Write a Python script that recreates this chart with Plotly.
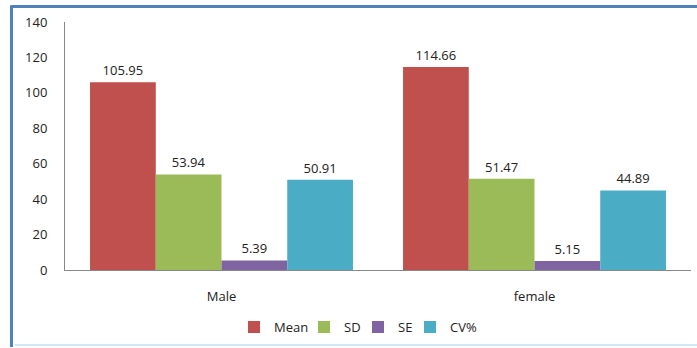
import plotly.graph_objects as go

categories = ["Male", "female"]
series_names = ["Mean", "SD", "SE", "CV%"]
mean_vals = [105.95, 114.66]
sd_vals = [53.94, 51.47]
se_vals = [5.39, 5.15]
cv_vals = [50.91, 44.89]
colors = ["#C0504D", "#9BBB59", "#8064A2", "#4BACC6"]
y_ticks = [0, 20, 40, 60, 80, 100, 120, 140]

legend_ids = ["legend", "legend2", "legend3", "legend4"]
legend_px = [234, 304, 358, 410]  # left edge (pixels) of each legend box

fig = go.Figure()
for name, vals, col, lid in zip(series_names, [mean_vals, sd_vals, se_vals, cv_vals], colors, legend_ids):
    fig.add_trace(go.Bar(
        x=categories, y=vals, name=name, marker_color=col, marker_line_width=0,
        text=[f"{v:.2f}" for v in vals], textposition="outside",
        textfont=dict(size=13, color="#222222"), cliponaxis=False,
        legend=lid,
    ))

L, R, T, B = 65, 6, 22, 78
W, H = 697, 348
pw = W - L - R
legend_common = dict(orientation="h", xanchor="left", y=-0.23, yanchor="middle",
                     font=dict(size=13), itemwidth=30, bgcolor="rgba(0,0,0,0)")
legends = {}
for lid, px in zip(legend_ids, legend_px):
    legends[lid] = dict(x=(px - L) / pw, **legend_common)

fig.update_layout(
    width=W, height=H,
    margin=dict(l=L, r=R, t=T, b=B),
    paper_bgcolor="white", plot_bgcolor="white",
    barmode="group", bargap=0.16, bargroupgap=0,
    font=dict(family="Open Sans, Liberation Sans, sans-serif", size=13, color="#222222"),
    showlegend=True,
    yaxis=dict(range=[0, 140], tickvals=y_ticks, showgrid=False, zeroline=False,
               showline=True, linecolor="#888888", linewidth=1,
               ticks="", ticklabelstandoff=14,
               tickfont=dict(size=13)),
    xaxis=dict(showline=True, linecolor="#888888", linewidth=1, showgrid=False,
               ticks="", ticklabelstandoff=14, tickfont=dict(size=13)),
    **legends,
)

# Frame (partially cropped in the reference)
fig.add_shape(type="line", xref="paper", yref="paper", x0=-0.0855, x1=1.02, y0=1.0625, y1=1.0625,
              line=dict(color="#4F81BD", width=3))
fig.add_shape(type="line", xref="paper", yref="paper", x0=-0.0855, x1=-0.0855, y0=-0.31, y1=1.068,
              line=dict(color="#4F81BD", width=3))
fig.add_shape(type="line", xref="paper", yref="paper", x0=-0.08, x1=1.02, y0=-0.302, y1=-0.302,
              line=dict(color="#CFE6F5", width=2))

fig.write_html("out.html")
